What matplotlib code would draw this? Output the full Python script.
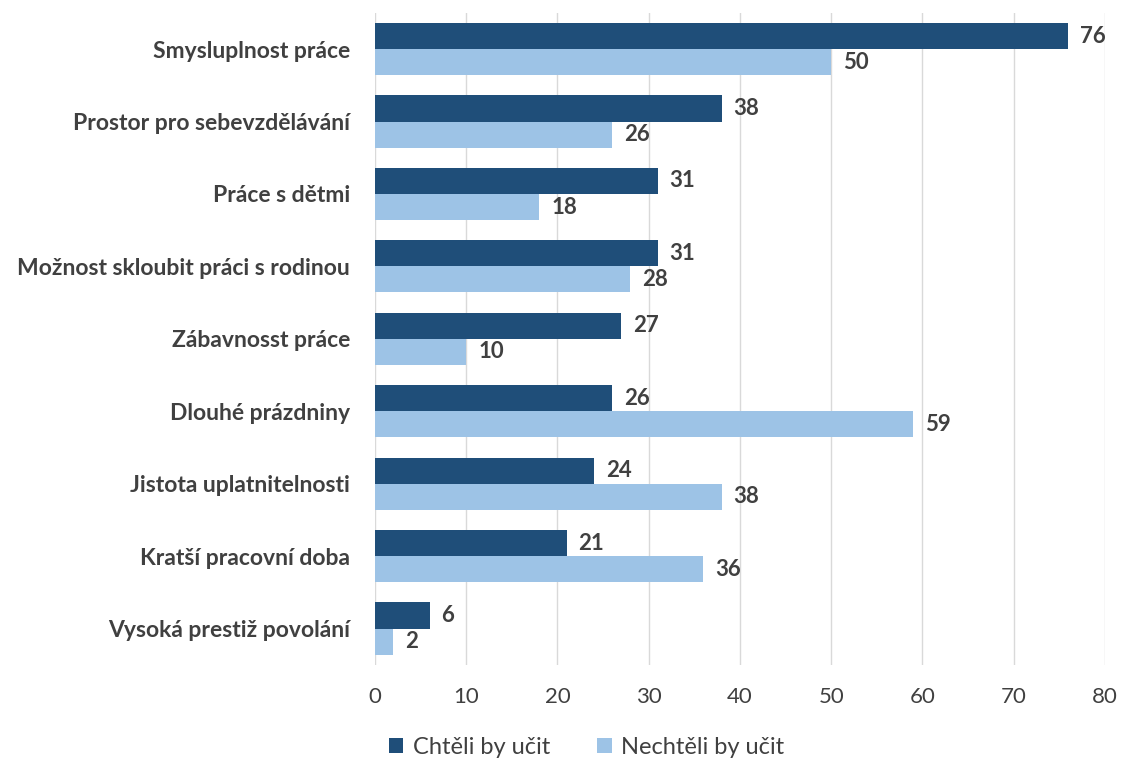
import matplotlib.pyplot as plt
import numpy as np

categories = ["Smysluplnost práce", "Prostor pro sebevzdělávání", "Práce s dětmi",
              "Možnost skloubit práci s rodinou", "Zábavnosst práce", "Dlouhé prázdniny",
              "Jistota uplatnitelnosti", "Kratší pracovní doba", "Vysoká prestiž povolání"]
chteli = [76, 38, 31, 31, 27, 26, 24, 21, 6]
nechteli = [50, 26, 18, 28, 10, 59, 38, 36, 2]
series_names = ["Chtěli by učit", "Nechtěli by učit"]

plt.rcParams['font.family'] = ['Lato', 'DejaVu Sans']
text_col = '#404040'

fig = plt.figure(figsize=(11.21, 7.58), dpi=100)
ax = fig.add_axes([0.3345, 0.123, 0.6512, 0.860])

y = np.arange(len(categories))
h = 0.36
b1 = ax.barh(y - h / 2, chteli, height=h, color='#1f4e79', label=series_names[0], zorder=3)
b2 = ax.barh(y + h / 2, nechteli, height=h, color='#9dc3e6', label=series_names[1], zorder=3)

for bars, vals in ((b1, chteli), (b2, nechteli)):
    for bar, v in zip(bars, vals):
        ax.text(bar.get_width() + 1.3, bar.get_y() + bar.get_height() / 2, str(v),
                va='center', ha='left', fontsize=16, fontweight='bold', color=text_col)

ax.set_ylim(len(categories) - 0.5, -0.5)
ax.set_xlim(0, 80)
ax.set_xticks(range(0, 81, 10))
ax.set_yticks(y)
ax.set_yticklabels(categories, fontsize=16.5, fontweight='bold', color=text_col)
ax.tick_params(axis='x', labelsize=16, colors=text_col, length=0, pad=16)
ax.tick_params(axis='y', length=0, pad=18)
ax.grid(axis='x', color='#d9d9d9', linewidth=1, zorder=0)
for s in ax.spines.values():
    s.set_visible(False)

ax.legend(loc='upper center', bbox_to_anchor=(0.29, -0.078), ncol=2, frameon=False,
          fontsize=17, handlelength=0.6, handleheight=0.6, columnspacing=2.0,
          handletextpad=0.4, labelcolor=text_col)

fig.savefig('out.png', dpi=100)
